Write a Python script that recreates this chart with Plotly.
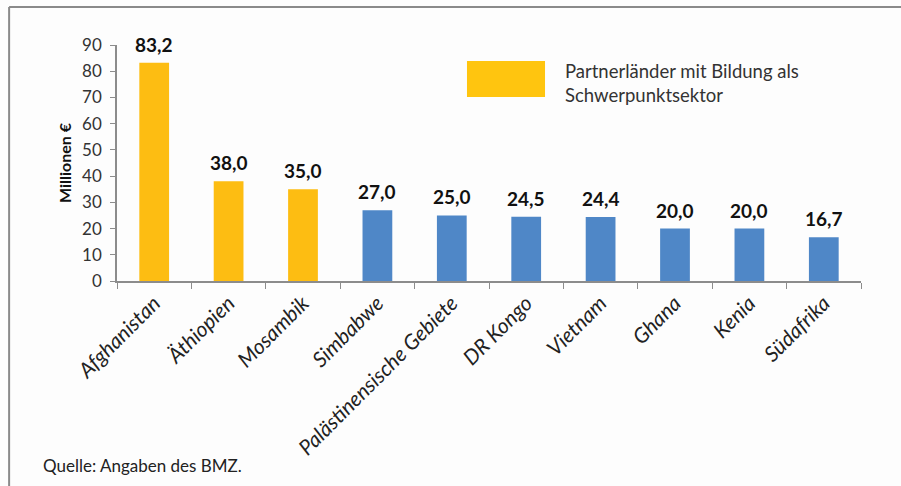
import plotly.graph_objects as go

countries = ["Afghanistan", "Äthiopien", "Mosambik", "Simbabwe", "Palästinensische Gebiete",
             "DR Kongo", "Vietnam", "Ghana", "Kenia", "Südafrika"]
values = [83.2, 38.0, 35.0, 27.0, 25.0, 24.5, 24.4, 20.0, 20.0, 16.7]
focus = [True, True, True, False, False, False, False, False, False, False]
labels = [f"{v:.1f}".replace(".", ",") for v in values]
y_ticks = [0, 10, 20, 30, 40, 50, 60, 70, 80, 90]

YELLOW = "#FDBD12"
BLUE = "#4F87C7"
FONT = "Lato"

colors = [YELLOW if f else BLUE for f in focus]

fig = go.Figure()
fig.add_trace(go.Bar(
    x=countries, y=values, marker=dict(color=colors, line=dict(width=0)),
    showlegend=False, hoverinfo="skip",
))

for c, v, t in zip(countries, values, labels):
    fig.add_annotation(x=c, y=v, text=f"<b>{t}</b>", showarrow=False,
                       yanchor="bottom", yshift=5,
                       font=dict(family=FONT, size=19, color="#111111"))

# Legend (drawn manually for its large swatch)
fig.add_shape(type="rect", xref="paper", yref="paper", x0=0.4704, x1=0.5753, y0=0.780, y1=0.932,
              fillcolor="#FFC50F", line=dict(width=0))
fig.add_annotation(xref="paper", yref="paper", x=0.5995, y=0.839, xanchor="left", yanchor="middle",
                   text="Partnerländer mit Bildung als<br>Schwerpunktsektor", showarrow=False, align="left",
                   font=dict(family=FONT, size=18.5, color="#333333"))

# Frame lines
fig.add_shape(type="line", xref="paper", yref="paper", x0=-0.145, x1=1.2, y0=1.161, y1=1.161,
              line=dict(color="#8a8a8a", width=2))
fig.add_shape(type="line", xref="paper", yref="paper", x0=-0.145, x1=-0.145, y0=1.161, y1=-0.9,
              line=dict(color="#8a8a8a", width=2))

fig.add_annotation(xref="paper", yref="paper", x=-0.102, y=-0.78, xanchor="left", yanchor="middle",
                   text="Quelle: Angaben des BMZ.", showarrow=False,
                   font=dict(family=FONT, size=17, color="#222222"))

fig.update_layout(
    width=901, height=486,
    margin=dict(l=117, r=40, t=45, b=205),
    paper_bgcolor="#FDFDFD", plot_bgcolor="#FDFDFD",
    bargap=0.6,
    font=dict(family=FONT, color="#333333"),
    xaxis=dict(
        tickangle=-45, showline=True, linecolor="#8c8c8c", linewidth=1.5, automargin=False,
        ticks="outside", ticklen=6, tickcolor="#8c8c8c", tickson="boundaries",
        tickfont=dict(family=FONT, size=21, style="italic", color="#222222"),
        showgrid=False,
    ),
    yaxis=dict(
        range=[0, 90], tickvals=y_ticks, showline=True, linecolor="#8c8c8c", linewidth=1.5,
        ticks="outside", ticklen=5, tickcolor="#8c8c8c", showgrid=False, zeroline=False,
        automargin=False, ticklabelstandoff=5,
        tickfont=dict(family=FONT, size=17, color="#333333"),
        title=dict(text="<b>Millionen €</b>", font=dict(family=FONT, size=16, color="#111111"), standoff=7),
    ),
)

fig.write_html("out.html", config={"displayModeBar": False},
               post_script="document.body.style.margin='0';document.body.style.overflow='hidden';")
